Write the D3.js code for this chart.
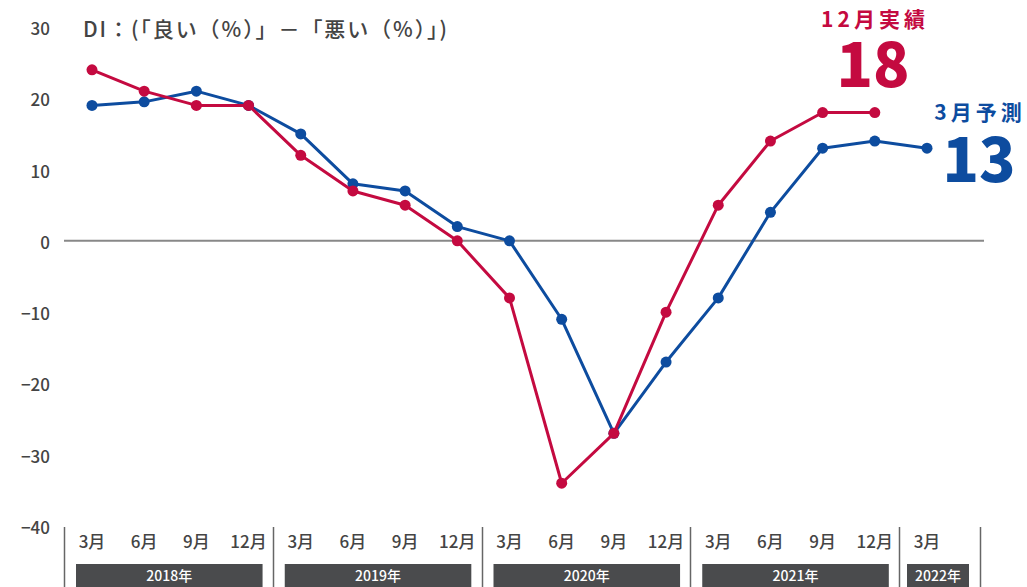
<!DOCTYPE html>
<html lang="ja">
<head>
<meta charset="utf-8">
<script src="https://cdn.jsdelivr.net/npm/d3@7"></script>
<style>
  html, body { margin: 0; padding: 0; background: #fff; }
  svg { display: block; font-family: "Noto Sans CJK JP", "Noto Sans", sans-serif; }
</style>
</head>
<body>
<svg id="chart" width="1027" height="587"></svg>
<script>
// Quarterly periods (month label, year group)
const months = ["3月","6月","9月","12月","3月","6月","9月","12月","3月","6月","9月","12月","3月","6月","9月","12月","3月"];
const yearOf = [2018,2018,2018,2018,2019,2019,2019,2019,2020,2020,2020,2020,2021,2021,2021,2021,2022];
const years = ["2018年","2019年","2020年","2021年","2022年"];

// DI forecast (blue) and actual (red)
const forecast = [19, 19.5, 21, 19, 15, 8, 7, 2, 0, -11, -27, -17, -8, 4, 13, 14, 13];
const actual   = [24, 21, 19, 19, 12, 7, 5, 0, -8, -34, -27, -10, 5, 14, 18, 18];

const yTicks = [30, 20, 10, 0, -10, -20, -30, -40];

const RED = "#c40a40";
const BLUE = "#0d4c9f";
const TEXT = "#444";

const svg = d3.select("#chart");

const x = d3.scalePoint().domain(d3.range(months.length)).range([92, 927]);
const y = d3.scaleLinear().domain([-40, 30]).range([526, 27]);

// y tick labels
const yAxis = d3.axisLeft(y).tickValues(yTicks).tickSize(0).tickPadding(0)
  .tickFormat(d => d < 0 ? "−" + Math.abs(d) : String(d));
const gy = svg.append("g").attr("transform", "translate(50,2)").call(yAxis);
gy.select(".domain").remove();
gy.selectAll("text").attr("fill", TEXT).style("font-size", "17px").style("font-weight", 500)
  .style("font-family", "'Noto Sans CJK JP', sans-serif");

// title
svg.append("text").attr("x", 83).attr("y", 37).attr("fill", TEXT)
  .attr("textLength", 364).attr("lengthAdjust", "spacing")
  .style("font-size", "21px").style("font-weight", 500)
  .text("DI：(「良い（%）」－「悪い（%）」)");

// zero line
svg.append("line").attr("x1", 64).attr("x2", 984).attr("y1", y(0)).attr("y2", y(0))
  .attr("stroke", "#888").attr("stroke-width", 2);

// year separators: before each March, plus closing edge
const sepX = [0, 4, 8, 12, 16].map(i => x(i) - 28).concat([x(16) + 53]);
svg.selectAll("line.sep").data(sepX).enter().append("line").attr("class", "sep")
  .attr("x1", d => Math.round(d) + 0.5).attr("x2", d => Math.round(d) + 0.5)
  .attr("y1", 527).attr("y2", 587).attr("stroke", "#666").attr("stroke-width", 1.5);

// month labels
svg.selectAll("text.month").data(months).enter().append("text").attr("class", "month")
  .attr("x", (d, i) => x(i)).attr("y", 548).attr("text-anchor", "middle")
  .attr("fill", TEXT).style("font-size", "17px").style("font-weight", 500).text(d => d);

// year bars
const yearGroups = years.map((label, k) => {
  const idx = d3.range(months.length).filter(i => yearOf[i] === 2018 + k);
  const first = idx[0], last = idx[idx.length - 1];
  const x0 = first === last ? x(first) - 20 : x(first) - 16;
  const x1 = first === last ? x(last) + 42 : x(last) + 14;
  return { label, x0, x1 };
});
const yb = svg.selectAll("g.year").data(yearGroups).enter().append("g").attr("class", "year");
yb.append("rect")
  .attr("x", d => d.x0).attr("width", d => d.x1 - d.x0)
  .attr("y", 564).attr("height", 23).attr("fill", "#4a4b4d");
yb.append("text")
  .attr("x", d => (d.x0 + d.x1) / 2)
  .attr("y", 581).attr("text-anchor", "middle").attr("fill", "#fff")
  .style("font-size", "14px").style("font-weight", 500).text(d => d.label);

// series lines and dots
const line = d3.line().x((d, i) => x(i)).y(d => y(d));
function drawSeries(values, color) {
  svg.append("path").datum(values).attr("d", line).attr("fill", "none")
    .attr("stroke", color).attr("stroke-width", 3).attr("stroke-linejoin", "round");
  svg.append("g").selectAll("circle").data(values).enter().append("circle")
    .attr("cx", (d, i) => x(i)).attr("cy", d => y(d)).attr("r", 5.5).attr("fill", color);
}
drawSeries(forecast, BLUE);
drawSeries(actual, RED);

// callouts
const lastActual = actual[actual.length - 1];
const lastForecast = forecast[forecast.length - 1];
svg.append("text").attr("x", 875).attr("y", 27).attr("text-anchor", "middle").attr("fill", RED)
  .style("font-size", "21px").style("font-weight", 700).style("letter-spacing", "4px").text("12月実績");
svg.append("text").attr("x", 873).attr("y", 87).attr("text-anchor", "middle").attr("fill", RED)
  .style("font-size", "60px").style("font-weight", 900).text(lastActual);
svg.append("text").attr("x", 980).attr("y", 120).attr("text-anchor", "middle").attr("fill", BLUE)
  .style("font-size", "21px").style("font-weight", 700).style("letter-spacing", "4px").text("3月予測");
svg.append("text").attr("x", 979).attr("y", 182).attr("text-anchor", "middle").attr("fill", BLUE)
  .style("font-size", "60px").style("font-weight", 900).text(lastForecast);
</script>
</body>
</html>
